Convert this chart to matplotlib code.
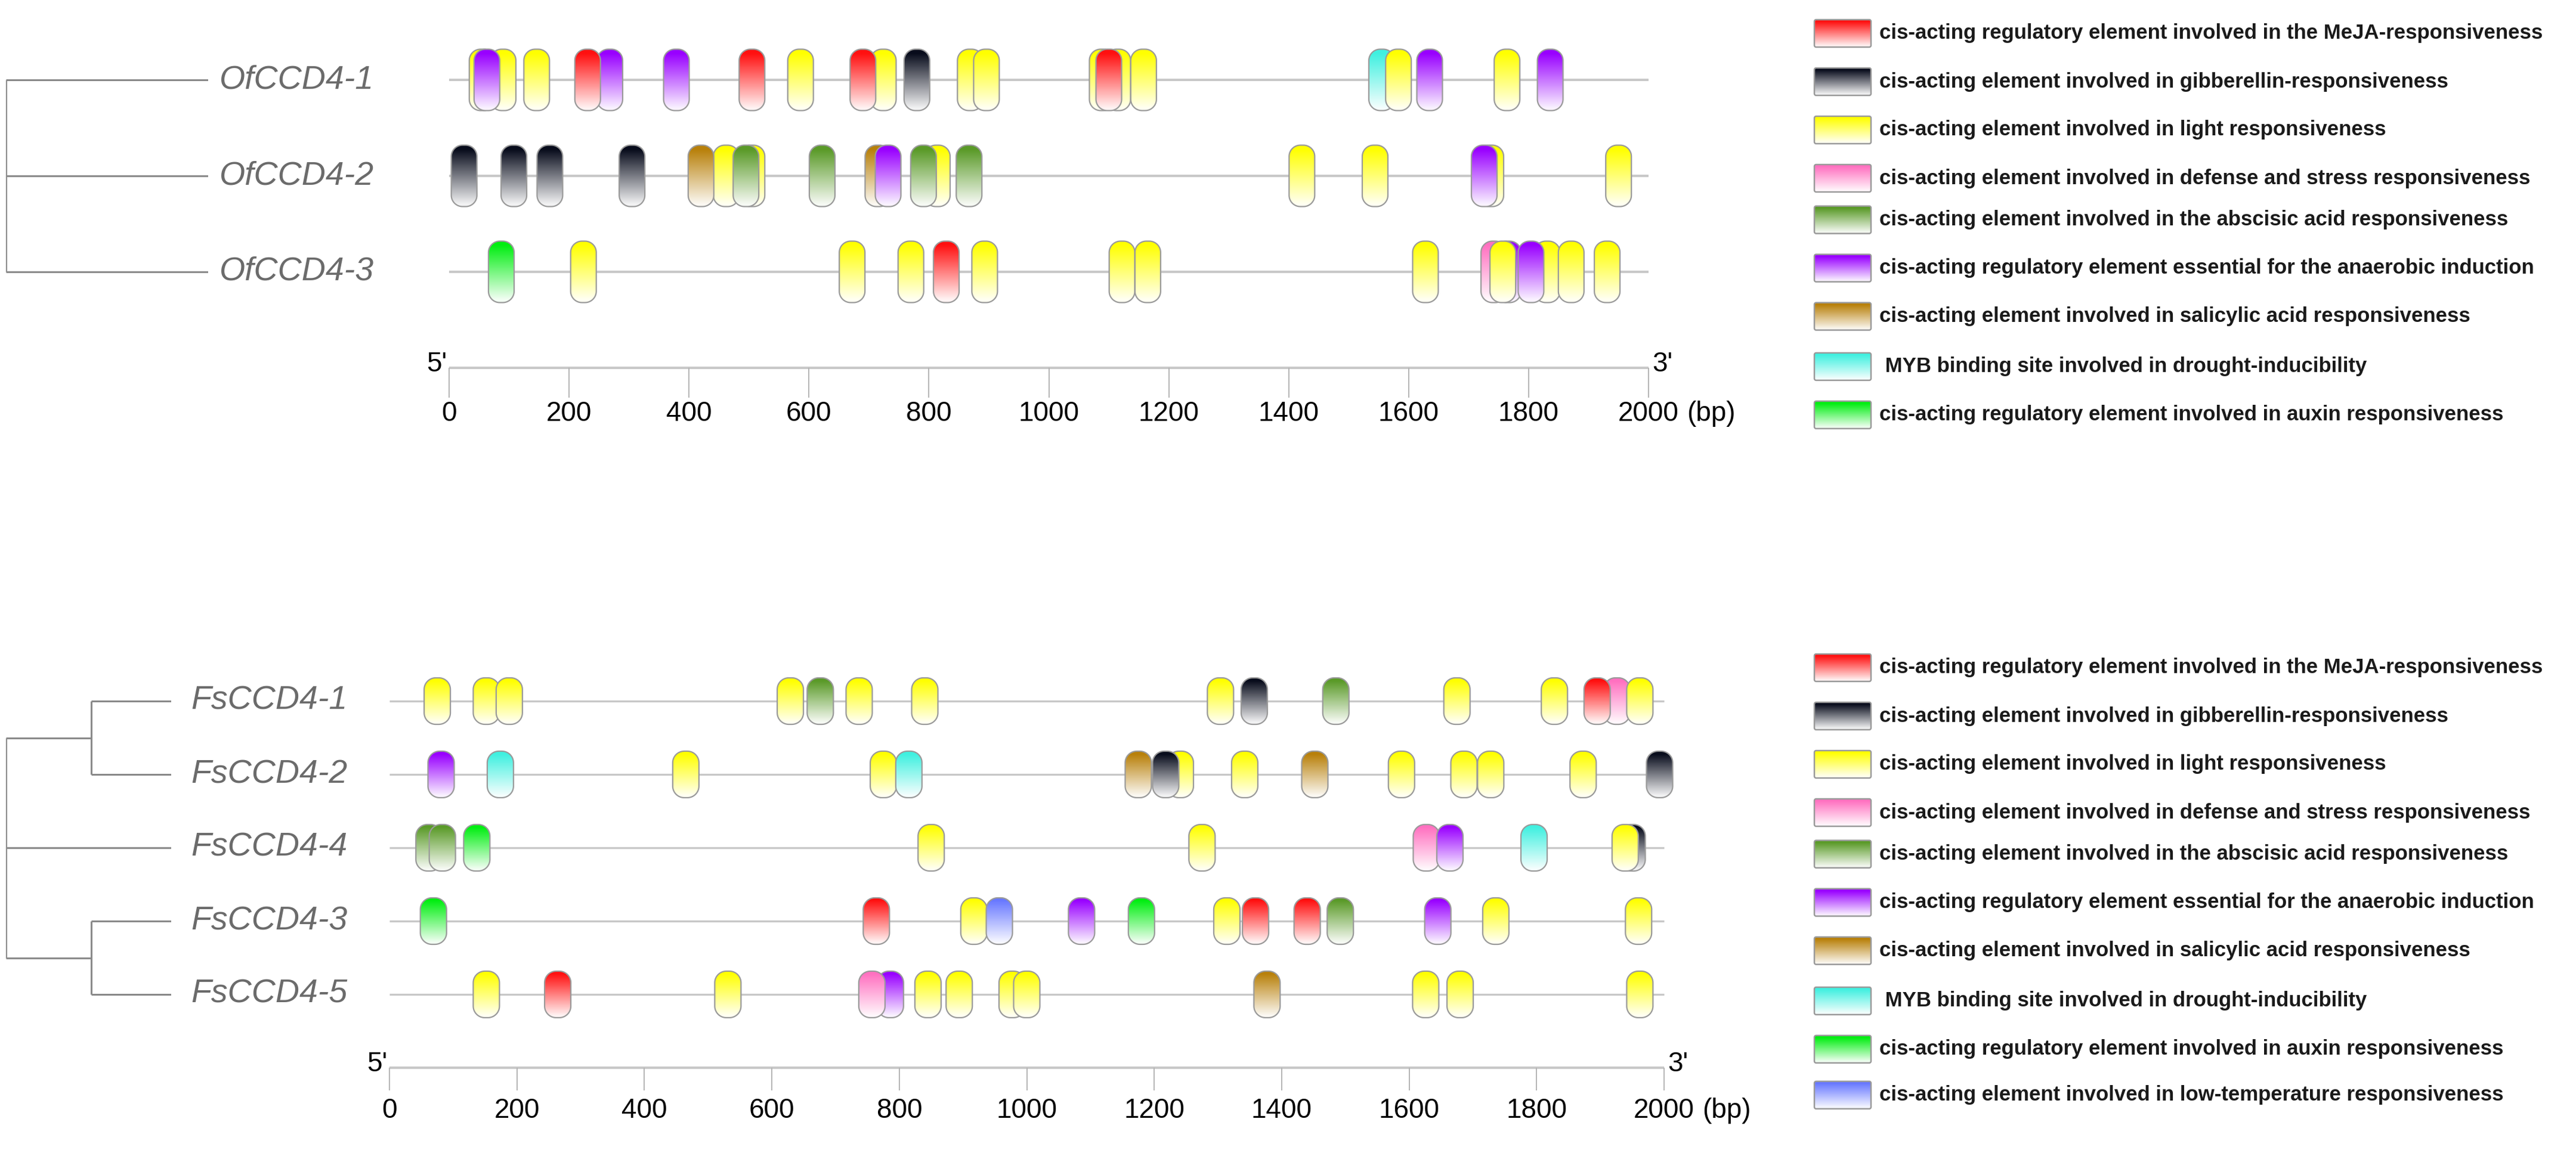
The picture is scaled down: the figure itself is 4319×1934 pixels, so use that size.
"""
Cis-acting element maps of CCD4 promoters (Osmanthus / Fagus panels).
Capsules are drawn as gradient images clipped to a rounded path.
"""

import numpy as np
import matplotlib
matplotlib.use("Agg")
import matplotlib.pyplot as plt
from matplotlib.path import Path
from matplotlib.patches import PathPatch
from matplotlib.colors import to_rgb

plt.rcParams["font.family"] = ["Liberation Sans", "DejaVu Sans"]

W, H, DPI = 4319, 1934, 100

# ---- element classes -------------------------------------------------------
ELEMENTS = ["MeJA", "GA", "light", "defense", "ABA", "anaerobic", "SA", "MYB", "auxin", "LTR"]
ELEMENT_LABELS = [
    "cis-acting regulatory element involved in the MeJA-responsiveness",
    "cis-acting element involved in gibberellin-responsiveness",
    "cis-acting element involved in light responsiveness",
    "cis-acting element involved in defense and stress responsiveness",
    "cis-acting element involved in the abscisic acid responsiveness",
    "cis-acting regulatory element essential for the anaerobic induction",
    "cis-acting element involved in salicylic acid responsiveness",
    " MYB binding site involved in drought-inducibility",
    "cis-acting regulatory element involved in auxin responsiveness",
    "cis-acting element involved in low-temperature responsiveness",
]
ELEMENT_COLORS = ["#ff1010", "#080c1c", "#ffff00", "#ff70c0", "#5a9a28",
                  "#9900ff", "#b8800a", "#40f0e0", "#00ee10", "#6878ff"]

TICKS = [0, 200, 400, 600, 800, 1000, 1200, 1400, 1600, 1800, 2000]

# ---- top panel: Osmanthus fragrans -----------------------------------------
OF_GENES = ["OfCCD4-1", "OfCCD4-2", "OfCCD4-3"]
OF_TREE = [0, 1, 2]

OF1_POS = [55, 90, 63, 146, 268, 231, 379, 505, 586, 724, 690, 780, 869, 896,
           1089, 1115, 1100, 1158, 1555, 1583, 1635, 1764, 1836]
OF1_TYPE = ["light", "light", "anaerobic", "light", "anaerobic", "MeJA", "anaerobic",
            "MeJA", "light", "light", "MeJA", "GA", "light", "light",
            "light", "light", "MeJA", "light", "MYB", "light", "anaerobic", "light",
            "anaerobic"]

OF2_POS = [25, 108, 168, 305, 462, 420, 505, 495, 622, 715, 732, 814, 791, 867,
           1422, 1544, 1737, 1726, 1950]
OF2_TYPE = ["GA", "GA", "GA", "GA", "light", "SA", "light", "ABA", "ABA", "SA",
            "anaerobic", "light", "ABA", "ABA", "light", "light", "light", "anaerobic",
            "light"]

OF3_POS = [87, 224, 672, 770, 829, 893, 1122, 1165, 1628, 1742, 1766, 1757, 1831,
           1804, 1871, 1931]
OF3_TYPE = ["auxin", "light", "light", "light", "MeJA", "light", "light", "light",
            "light", "defense", "anaerobic", "light", "light", "anaerobic", "light",
            "light"]

# ---- bottom panel: Fagus sylvatica -------------------------------------------
FS_GENES = ["FsCCD4-1", "FsCCD4-2", "FsCCD4-4", "FsCCD4-3", "FsCCD4-5"]
FS_TREE = [[0, 1], 2, [3, 4]]

FS1_POS = [75, 152, 188, 629, 676, 737, 840, 1304, 1357, 1485, 1675, 1828,
           1926, 1895, 1962]
FS1_TYPE = ["light", "light", "light", "light", "ABA", "light", "light", "light", "GA",
            "ABA", "light", "light", "defense", "MeJA", "light"]

FS2_POS = [81, 174, 465, 775, 815, 1241, 1175, 1218, 1342, 1452, 1588, 1686, 1728,
           1873, 1993]
FS2_TYPE = ["anaerobic", "MYB", "light", "light", "MYB", "light", "SA", "GA", "light",
            "SA", "light", "light", "light", "light", "GA"]

FS4_POS = [62, 83, 137, 850, 1275, 1627, 1664, 1796, 1950, 1939]
FS4_TYPE = ["ABA", "ABA", "auxin", "light", "light", "defense", "anaerobic", "MYB",
            "GA", "light"]

FS3_POS = [69, 764, 917, 957, 1086, 1180, 1314, 1359, 1440, 1492, 1645, 1736, 1960]
FS3_TYPE = ["auxin", "MeJA", "light", "LTR", "anaerobic", "auxin", "light", "MeJA",
            "MeJA", "ABA", "anaerobic", "light", "light"]

FS5_POS = [152, 264, 531, 786, 757, 845, 894, 977, 1000, 1377, 1626, 1680, 1962]
FS5_TYPE = ["light", "MeJA", "light", "anaerobic", "defense", "light", "light", "light",
            "light", "SA", "light", "light", "light"]

EDGE = "#9a9a9a"
LINE = "#c8c8c8"
TREE = "#8a8a8a"

fig = plt.figure(figsize=(W / DPI, H / DPI), dpi=DPI)
fig.patch.set_facecolor("white")


def gradient(color, n=90):
    c = np.array(to_rgb(color))
    t = np.linspace(0, 1, n)[:, None]
    f = np.clip((t - 0.06) / 0.9, 0, 1) * 0.95
    return (c * (1 - f) + f)[:, None, :]


def rounded_path(xc, yc, w_px, h_px, r, sx, sy):
    # build in pixel units (v pointing down), then map to data units
    pts = []
    corners = [(w_px / 2 - r, -h_px / 2 + r, -90), (w_px / 2 - r, h_px / 2 - r, 0),
               (-w_px / 2 + r, h_px / 2 - r, 90), (-w_px / 2 + r, -h_px / 2 + r, 180)]
    for cx, cy, a0 in corners:
        ang = np.radians(np.linspace(a0, a0 + 90, 14))
        pts += list(zip(cx + r * np.cos(ang), cy + r * np.sin(ang)))
    pts.append(pts[0])
    pts = np.array(pts)
    verts = np.column_stack([xc + pts[:, 0] * sx, yc + pts[:, 1] * sy])
    codes = [Path.MOVETO] + [Path.LINETO] * (len(verts) - 2) + [Path.CLOSEPOLY]
    return Path(verts, codes)


def gradient_box(ax, xc, yc, w_px, h_px, r, sx, sy, color, z, lw=1.6):
    path = rounded_path(xc, yc, w_px, h_px, r, sx, sy)
    hw, hh = w_px / 2 * sx, h_px / 2 * sy
    im = ax.imshow(gradient(color), extent=(xc - hw, xc + hw, yc + hh, yc - hh),
                   aspect="auto", interpolation="bilinear", zorder=z)
    patch = PathPatch(path, facecolor="none", edgecolor=EDGE, lw=lw, zorder=z + 0.5)
    ax.add_patch(patch)
    im.set_clip_path(patch)


def make_panel(left_px, right_px, top_px, axis_px, n_rows):
    kx = (right_px - left_px) / 2000.0
    ky = (axis_px - top_px) / float(n_rows)
    xlo, xhi, ylo, yhi = -100, 2100, -0.8, n_rows + 0.8
    ax = fig.add_axes([(left_px + xlo * kx) / W, 1 - (top_px + yhi * ky) / H,
                       (xhi - xlo) * kx / W, (yhi - ylo) * ky / H])
    ax.set_autoscale_on(False)
    ax.set_xlim(xlo, xhi)
    ax.set_ylim(yhi, ylo)
    ax.set_axis_off()
    return ax, kx, ky


def make_tree_axes(root_px, leaf_px, top_px, axis_px, n_rows):
    ky = (axis_px - top_px) / float(n_rows)
    ylo, yhi = -0.8, n_rows + 0.8
    ax = fig.add_axes([root_px / W, 1 - (top_px + yhi * ky) / H,
                       (leaf_px - root_px) / W, (yhi - ylo) * ky / H])
    ax.set_xlim(0, 1)
    ax.set_ylim(yhi, ylo)
    ax.set_axis_off()
    return ax


def draw_tree(ax, node, x, step):
    ys = []
    for child in node:
        if isinstance(child, list):
            cy = draw_tree(ax, child, x + step, step)
            ax.plot([x, x + step], [cy, cy], color=TREE, lw=2.2, solid_capstyle="butt")
        else:
            cy = child
            ax.plot([x, 1.0], [cy, cy], color=TREE, lw=2.2, solid_capstyle="butt")
        ys.append(cy)
    ax.plot([x, x], [min(ys), max(ys)], color=TREE, lw=2.2, solid_capstyle="butt")
    return (min(ys) + max(ys)) / 2.0


def draw_panel(ax, kx, ky, genes, sites, site_w, site_h, line_lw, tick_len, label_px):
    sx, sy = 1.0 / kx, 1.0 / ky
    n = len(genes)
    z = 3
    for row, (pos, types) in enumerate(sites):
        ax.hlines(row, 0, 2000, color=LINE, lw=line_lw, zorder=1)
        for p, t in zip(pos, types):
            gradient_box(ax, p, row, site_w, site_h, 0.44 * site_w, sx, sy,
                         ELEMENT_COLORS[ELEMENTS.index(t)], z)
            z += 1
    # scale bar
    ax.hlines(n, 0, 2000, color=LINE, lw=3.0, zorder=1)
    ax.vlines(TICKS, n, n + tick_len * sy, color="#b4b4b4", lw=1.4, zorder=1)
    for t in TICKS:
        ax.text(t, n + label_px * sy, str(t), ha="center", va="center",
                fontsize=33, color="black")
    ax.annotate("(bp)", xy=(2000, n + label_px * sy), xytext=(64, 0),
                textcoords="offset pixels", ha="left", va="center",
                fontsize=33, color="black", annotation_clip=False)
    ax.annotate("5'", xy=(0, n), xytext=(-4, 6), textcoords="offset pixels",
                ha="right", va="center", fontsize=33, color="black",
                annotation_clip=False)
    ax.annotate("3'", xy=(2000, n), xytext=(6, 6), textcoords="offset pixels",
                ha="left", va="center", fontsize=33, color="black",
                annotation_clip=False)


def draw_labels(tax, genes, off_px):
    for row, g in enumerate(genes):
        tax.annotate(g, xy=(1.0, row), xytext=(off_px, 0), textcoords="offset pixels",
                     ha="left", va="center", fontsize=40, style="italic",
                     color="#6b6b6b", annotation_clip=False)


# overlay axes for the legends (figure pixel coordinates)
lay = fig.add_axes([0, 0, 1, 1])
lay.set_autoscale_on(False)
lay.set_xlim(0, W)
lay.set_ylim(H, 0)
lay.set_axis_off()


def draw_legend(y0, slots, n_items):
    for i in range(n_items):
        yc = y0 + slots[i] * 81
        gradient_box(lay, 3089.5, yc, 95, 46, 3, 1.0, 1.0, ELEMENT_COLORS[i], 2, lw=1.8)
        lay.text(3151, yc, ELEMENT_LABELS[i], ha="left", va="center",
                 fontsize=25, fontweight="bold", color="#1a1a1a")


LEGEND_SLOTS = [0, 1, 2, 3, 3.86, 4.86, 5.86, 6.9, 7.9, 8.85]

# ---- top panel ----
ax_top, kx_t, ky_t = make_panel(753, 2764, 134, 617, 3)
draw_panel(ax_top, kx_t, ky_t, OF_GENES,
           [(OF1_POS, OF1_TYPE), (OF2_POS, OF2_TYPE), (OF3_POS, OF3_TYPE)],
           43, 103, 2.9, 50, 77)
tree_top = make_tree_axes(10, 349, 134, 617, 3)
draw_tree(tree_top, OF_TREE, 0.0, 1.0)
draw_labels(tree_top, OF_GENES, 19)
draw_legend(56, LEGEND_SLOTS, 9)

# ---- bottom panel ----
ax_bot, kx_b, ky_b = make_panel(653, 2790, 1176, 1791, 5)
draw_panel(ax_bot, kx_b, ky_b, FS_GENES,
           [(FS1_POS, FS1_TYPE), (FS2_POS, FS2_TYPE), (FS4_POS, FS4_TYPE),
            (FS3_POS, FS3_TYPE), (FS5_POS, FS5_TYPE)],
           44, 78, 2.4, 38, 72)
tree_bot = make_tree_axes(10, 287, 1176, 1791, 5)
draw_tree(tree_bot, FS_TREE, 0.0, 0.516)
draw_labels(tree_bot, FS_GENES, 33)
draw_legend(1120, LEGEND_SLOTS, 10)

fig.savefig("out.png", dpi=DPI, facecolor="white")
